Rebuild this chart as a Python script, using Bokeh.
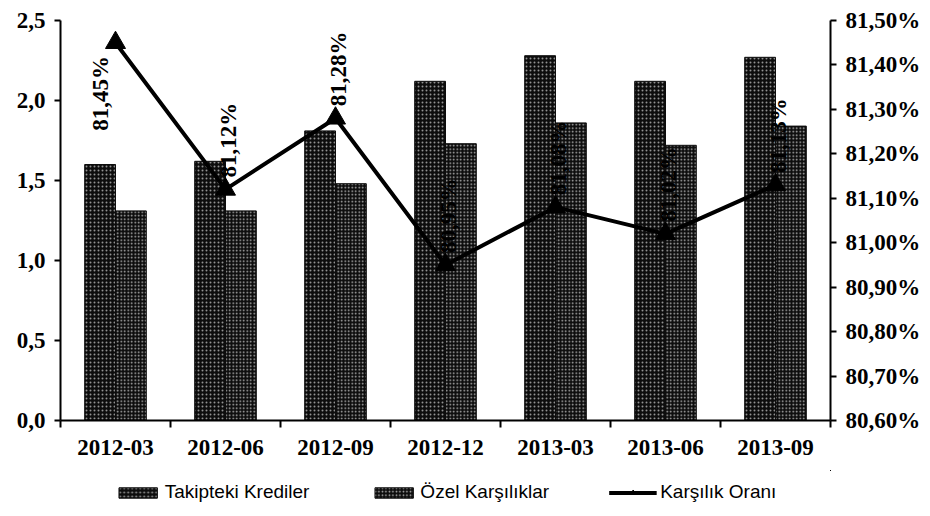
import math
from bokeh.plotting import figure
from bokeh.layouts import column
from bokeh.models import (Range1d, LinearAxis, FixedTicker, CustomJSTickFormatter,
                          Legend, LegendItem, ColumnDataSource)
from bokeh.core.properties import value
from bokeh.embed import file_html
from bokeh.resources import INLINE

# ---------------- data ----------------
periods = ["2012-03", "2012-06", "2012-09", "2012-12", "2013-03", "2013-06", "2013-09"]
takipteki = [1.60, 1.62, 1.81, 2.12, 2.28, 2.12, 2.27]
ozel = [1.31, 1.31, 1.48, 1.73, 1.86, 1.72, 1.84]
oran = [81.45, 81.12, 81.28, 80.95, 81.08, 81.02, 81.13]
oran_labels = ["81,45%", "81,12%", "81,28%", "80,95%", "81,08%", "81,02%", "81,13%"]
left_ticks = [0.0, 0.5, 1.0, 1.5, 2.0, 2.5]
left_tick_labels = ["0,0", "0,5", "1,0", "1,5", "2,0", "2,5"]
right_ticks = [80.6, 80.7, 80.8, 80.9, 81.0, 81.1, 81.2, 81.3, 81.4, 81.5]
right_tick_labels = ["80,60%", "80,70%", "80,80%", "80,90%", "81,00%",
                     "81,10%", "81,20%", "81,30%", "81,40%", "81,50%"]
series_names = ["Takipteki Krediler", "Özel Karşılıklar", "Karşılık Oranı"]

# ---------------- styling ----------------
SERIF = "Liberation Serif"
SANS = "Liberation Sans"
TICK_SIZE = "23px"
BAR_W = 0.28
W = 928

n = len(periods)
centers = [i + 0.5 for i in range(n)]
src = ColumnDataSource(dict(
    x1=[c - BAR_W / 2 for c in centers],
    x2=[c + BAR_W / 2 for c in centers],
    xc=centers,
    takipteki=takipteki,
    ozel=ozel,
    oran=oran,
    lab=oran_labels,
    xoff=[-15 if v > 81.4 else 3 for v in oran],
    yoff=[88 if v > 81.4 else -12 for v in oran],
))

p = figure(width=W, height=470, x_range=Range1d(0, n),
           y_range=Range1d(left_ticks[0], left_ticks[-1]),
           output_backend="svg", toolbar_location=None,
           x_axis_type=None, y_axis_type=None,
           min_border_left=60, min_border_right=W - 830, min_border_top=20, min_border_bottom=50)
p.outline_line_color = None
p.grid.visible = False
p.background_fill_color = "white"
p.border_fill_color = "white"
p.extra_y_ranges = {"pct": Range1d(right_ticks[0], right_ticks[-1])}

def fmt(ticks, labels):
    return CustomJSTickFormatter(args=dict(t=ticks, l=labels), code="""
        let best = 0, d = 1e9;
        for (let i = 0; i < t.length; i++) { const e = Math.abs(t[i] - tick); if (e < d) { d = e; best = i; } }
        return l[best];
    """)

ya = LinearAxis(ticker=FixedTicker(ticks=left_ticks, minor_ticks=[]), formatter=fmt(left_ticks, left_tick_labels))
yb = LinearAxis(y_range_name="pct", ticker=FixedTicker(ticks=right_ticks, minor_ticks=[]),
                formatter=fmt(right_ticks, right_tick_labels))
xa = LinearAxis(ticker=FixedTicker(ticks=centers, minor_ticks=list(range(n + 1))),
                formatter=CustomJSTickFormatter(args=dict(l=periods), code="return l[Math.floor(tick)];"))

for ax in (ya, yb, xa):
    ax.axis_line_color = "black"
    ax.axis_line_width = 2
    ax.major_tick_line_color = "black"
    ax.major_tick_line_width = 2
    ax.major_tick_in = 0
    ax.major_tick_out = 6
    ax.minor_tick_in = 0
    ax.minor_tick_out = 0
    ax.major_label_text_font = SERIF
    ax.major_label_text_font_size = TICK_SIZE
    ax.major_label_text_font_style = "bold"
    ax.major_label_text_color = "black"
    ax.major_label_standoff = 9
xa.major_tick_line_color = None
xa.minor_tick_line_color = "black"
xa.minor_tick_line_width = 2
xa.minor_tick_out = 7
xa.major_label_standoff = 12

p.add_layout(ya, "left")
p.add_layout(yb, "right")
p.add_layout(xa, "below")

bar_kw = dict(fill_color="#0d0d0d", line_color="#0d0d0d", hatch_pattern="dot",
              hatch_color="white", hatch_scale=4, hatch_weight=1.0, hatch_alpha=0.55)
bar_kw2 = dict(bar_kw, hatch_alpha=0.7, hatch_scale=3.5)
line_kw = dict(line_color="black", line_width=4)
mark_kw = dict(marker="triangle", size=20, fill_color="black", line_color="black")

p.vbar(x="x1", top="takipteki", bottom=0, width=BAR_W, source=src, **bar_kw)
p.vbar(x="x2", top="ozel", bottom=0, width=BAR_W, source=src, **bar_kw2)
p.line(x="xc", y="oran", source=src, y_range_name="pct", **line_kw)
p.scatter(x="xc", y="oran", source=src, y_range_name="pct", **mark_kw)
p.text(x="xc", y="oran", text="lab", source=src, y_range_name="pct",
       angle=math.pi / 2, x_offset="xoff", y_offset="yoff",
       text_font=value(SERIF), text_font_size=TICK_SIZE, text_font_style="bold",
       text_color="black", text_align="left", text_baseline="middle")

# ---- legend strip: same series drawn in a separate figure whose view excludes them ----
lg = figure(width=W, height=44, x_range=Range1d(-3, -2), y_range=Range1d(-3, -2),
            output_backend="svg", toolbar_location=None,
            x_axis_type=None, y_axis_type=None,
            min_border_left=56, min_border_right=0, min_border_top=0, min_border_bottom=0)
lg.outline_line_color = None
lg.grid.visible = False
lg.border_fill_color = "white"
l1 = lg.vbar(x="x1", top="takipteki", bottom=0, width=BAR_W, source=src, **bar_kw)
l2 = lg.vbar(x="x2", top="ozel", bottom=0, width=BAR_W, source=src, **bar_kw2)
l3 = lg.line(x="xc", y="oran", source=src, **line_kw)
l4 = lg.scatter(x="xc", y="oran", source=src, **mark_kw)
legend = Legend(items=[LegendItem(label=series_names[0], renderers=[l1]),
                       LegendItem(label=series_names[1], renderers=[l2]),
                       LegendItem(label=series_names[2], renderers=[l3, l4])],
                orientation="horizontal", location="center",
                border_line_color=None, background_fill_alpha=0,
                label_text_font=SANS, label_text_font_size="19px", label_text_color="black",
                glyph_width=48, glyph_height=13, label_standoff=3, spacing=60,
                padding=4, margin=0)
lg.add_layout(legend, "center")

page = column(p, lg, spacing=0)
open("out.html", "w").write(file_html(page, INLINE))
